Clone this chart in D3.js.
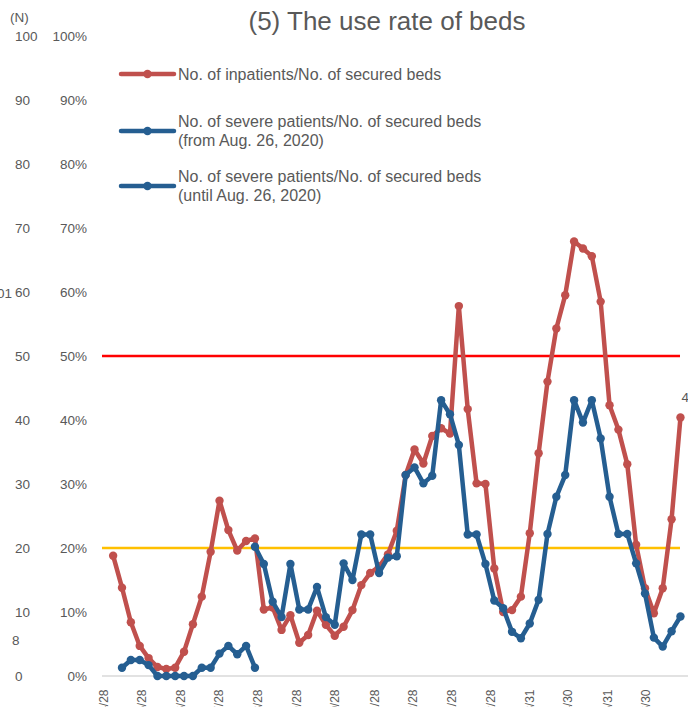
<!DOCTYPE html>
<html>
<head>
<meta charset="utf-8">
<script src="https://cdn.jsdelivr.net/npm/d3@7"></script>
<style>
  html, body { margin: 0; padding: 0; background: #fff; overflow: hidden; }
  svg { display: block; font-family: "Liberation Sans", Arial, sans-serif; }
</style>
</head>
<body>
<svg id="chart" width="688" height="707"></svg>
<script>
// Weekly observations (Wednesdays) starting 2020-05-06
const firstWeek = new Date(2020, 4, 6);
const weekCount = 65;

// No. of inpatients / No. of secured beds (%)
const inpatientRate = [
  18.8, 13.8, 8.4, 4.7, 2.8, 1.4, 1.1, 1.3, 3.8, 8.1,
  12.4, 19.4, 27.4, 22.8, 19.6, 21.1, 21.5, 10.4, 10.7, 7.2,
  9.5, 5.2, 6.4, 10.2, 8.0, 6.3, 7.7, 10.3, 14.2, 16.1,
  17.1, 19.0, 22.7, 31.4, 35.4, 33.2, 37.5, 38.7, 37.9, 57.8,
  41.7, 30.1, 30.0, 16.8, 10.0, 10.3, 12.4, 22.3, 34.8, 46.0,
  54.3, 59.5, 67.9, 66.8, 65.6, 58.5, 42.3, 38.5, 33.1, 20.5,
  13.7, 9.8, 13.7, 24.5, 40.4
];
const inpatientStart = 0;

// No. of severe patients / No. of secured beds (from Aug. 26, 2020) (%)
const severeFrom = [
  20.2, 17.5, 11.6, 9.2, 17.5, 10.4, 10.4, 13.9, 9.2, 8.0,
  17.6, 15.0, 22.1, 22.1, 16.1, 18.5, 18.7, 31.4, 32.6, 30.1,
  31.3, 43.1, 40.9, 36.1, 22.1, 22.1, 17.5, 11.8, 10.6, 6.9,
  5.9, 8.2, 11.9, 22.2, 28.0, 31.4, 43.1, 39.6, 43.1, 37.1,
  28.0, 22.2, 22.2, 17.6, 12.9, 6.0, 4.6, 7.0, 9.3
];
const severeFromStart = 16;

// No. of severe patients / No. of secured beds (until Aug. 26, 2020) (%)
const severeUntil = [
  1.3, 2.5, 2.5, 1.7, 0, 0, 0, 0, 0, 1.3,
  1.3, 3.5, 4.7, 3.4, 4.7, 1.3
];
const severeUntilStart = 1;

// Category axis ticks
const tickDates = [
  "2020/4/28", "2020/5/28", "2020/6/28", "2020/7/28", "2020/8/28",
  "2020/9/28", "2020/10/28", "2020/11/28", "2020/12/28", "2021/1/28",
  "2021/2/28", "2021/3/31", "2021/4/30", "2021/5/31", "2021/6/30"
];
const countTicks = [0, 10, 20, 30, 40, 50, 60, 70, 80, 90, 100];
const pctTicks = [0, 10, 20, 30, 40, 50, 60, 70, 80, 90, 100];
const thresholds = [
  { value: 50, color: "#FF0000" },
  { value: 20, color: "#FFC000" }
];

const seriesDefs = [
  { name: "No. of inpatients/No. of secured beds", values: inpatientRate, start: inpatientStart, color: "#C0504D" },
  { name: "No. of severe patients/No. of secured beds|(from Aug. 26, 2020)", values: severeFrom, start: severeFromStart, color: "#255E91" },
  { name: "No. of severe patients/No. of secured beds|(until Aug. 26, 2020)", values: severeUntil, start: severeUntilStart, color: "#255E91" }
];

const parseDate = d3.timeParse("%Y/%m/%d");
const weeks = d3.range(weekCount).map(i => d3.timeDay.offset(firstWeek, i * 7));

const svg = d3.select("#chart");
const textColor = "#595959";
const fontFamily = "Liberation Sans, Arial, sans-serif";

const x = d3.scaleTime()
  .domain([parseDate(tickDates[0]), parseDate(tickDates[tickDates.length - 1])])
  .range([103, 645]);
const y = d3.scaleLinear().domain([0, 100]).range([676, 36]);

// Title
svg.append("text")
  .attr("x", 387).attr("y", 30)
  .attr("text-anchor", "middle")
  .attr("font-size", 26)
  .attr("fill", textColor)
  .text("(5) The use rate of beds");

// Count axis (left) and percent axis
svg.append("text").attr("x", 10).attr("y", 22)
  .attr("font-size", 13.5).attr("fill", textColor).text("(N)");

const countAxis = d3.axisLeft(y).tickValues(countTicks).tickSize(0).tickFormat(d => d);
const gCount = svg.append("g").attr("transform", "translate(15,0)").call(countAxis);
gCount.select(".domain").remove();
gCount.selectAll("text").attr("x", 0).attr("text-anchor", "start")
  .attr("font-size", 13.5).attr("fill", textColor).attr("font-family", fontFamily);

const pctAxis = d3.axisLeft(y).tickValues(pctTicks).tickSize(0).tickFormat(d => d + "%");
const gPct = svg.append("g").attr("transform", "translate(87,0)").call(pctAxis);
gPct.select(".domain").remove();
gPct.selectAll("text").attr("x", 0).attr("text-anchor", "end")
  .attr("font-size", 13.5).attr("fill", textColor).attr("font-family", fontFamily);

// Horizontal axis
svg.append("line")
  .attr("x1", 102).attr("x2", 688)
  .attr("y1", y(0)).attr("y2", y(0))
  .attr("stroke", "#D9D9D9").attr("stroke-width", 1.5);

const xAxis = d3.axisBottom(x).tickValues(tickDates.map(parseDate)).tickSize(0)
  .tickFormat((d, i) => tickDates[i]);
const gX = svg.append("g").attr("transform", `translate(0,${y(0)})`).call(xAxis);
gX.select(".domain").remove();
gX.selectAll("text")
  .attr("transform", "rotate(-90)")
  .attr("x", -13.5).attr("y", 0).attr("dy", "0.35em")
  .attr("text-anchor", "end")
  .attr("font-size", 12).attr("fill", textColor)
  .attr("font-family", fontFamily);

// Threshold lines
thresholds.forEach(t => {
  svg.append("line")
    .attr("x1", 102).attr("x2", 680)
    .attr("y1", y(t.value)).attr("y2", y(t.value))
    .attr("stroke", t.color).attr("stroke-width", 2.5);
});

// Series lines and markers
const line = d3.line().x(d => x(d.date)).y(d => y(d.value));
seriesDefs.forEach(s => {
  const pts = s.values.map((v, i) => ({ date: weeks[s.start + i], value: v }));
  const g = svg.append("g");
  g.append("path").datum(pts)
    .attr("d", line)
    .attr("fill", "none")
    .attr("stroke", s.color)
    .attr("stroke-width", 4.5)
    .attr("stroke-linejoin", "round")
    .attr("stroke-linecap", "round");
  g.selectAll("circle").data(pts).join("circle")
    .attr("cx", d => x(d.date)).attr("cy", d => y(d.value))
    .attr("r", 4.2).attr("fill", s.color);
});

// Value label for the latest inpatient rate
const lastIdx = inpatientStart + inpatientRate.length - 1;
const lastVal = inpatientRate[inpatientRate.length - 1];
svg.append("text")
  .attr("x", x(weeks[lastIdx]) + 1).attr("y", y(lastVal) - 15)
  .attr("font-size", 13.5).attr("fill", textColor)
  .text(lastVal.toFixed(1) + "%");

// Legend
const legendY = [74, 131, 186];
const legendTextY = [[79.5], [127, 145.5], [182, 200.5]];
seriesDefs.forEach((s, i) => {
  const g = svg.append("g");
  g.append("line")
    .attr("x1", 121).attr("x2", 174)
    .attr("y1", legendY[i]).attr("y2", legendY[i])
    .attr("stroke", s.color).attr("stroke-width", 4.5).attr("stroke-linecap", "round");
  g.append("circle").attr("cx", 147.5).attr("cy", legendY[i]).attr("r", 4.2).attr("fill", s.color);
  s.name.split("|").forEach((t, j) => {
    g.append("text")
      .attr("x", 178).attr("y", legendTextY[i][j])
      .attr("font-size", 16).attr("fill", textColor)
      .text(t);
  });
});

// Edge fragments from the neighbouring panels
svg.append("text").attr("x", -3).attr("y", 298).attr("font-size", 13.5).attr("fill", textColor).text("01");
svg.append("text").attr("x", 12).attr("y", 645).attr("font-size", 13.5).attr("fill", textColor).text("8");
</script>
</body>
</html>
